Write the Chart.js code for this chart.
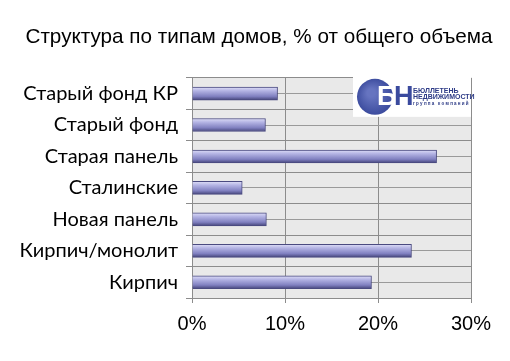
<!DOCTYPE html>
<html>
<head>
<meta charset="utf-8">
<script src="https://cdn.jsdelivr.net/npm/chart.js@4"></script>
<style>
  html, body { margin: 0; padding: 0; background: #fff; }
  #wrap { width: 510px; height: 361px; }
</style>
</head>
<body>
<div id="wrap"><canvas id="chart" width="510" height="361"></canvas></div>
<script>
// ================= DATA =================
const categories = [
    "Старый фонд КР",
    "Старый фонд",
    "Старая панель",
    "Сталинские",
    "Новая панель",
    "Кирпич/монолит",
    "Кирпич"
];
const shares = [9.2, 7.9, 26.3, 5.4, 8.0, 23.6, 19.3];
const xTicks = [0, 10, 20, 30];

const titleText = "Структура по типам домов, % от общего объема";

// ================= HELPERS =================
function barGradient(ctx) {
    const chart = ctx.chart;
    const y = chart.scales.y;
    if (!y || ctx.dataIndex === undefined) return "#9090c8";
    const c = y.getPixelForValue(ctx.dataIndex);
    if (!Number.isFinite(c)) return "#9090c8";
    const g = chart.ctx.createLinearGradient(0, c - 7, 0, c + 7);
    g.addColorStop(0, "#e4e4fa");
    g.addColorStop(0.3, "#b4b4e4");
    g.addColorStop(0.7, "#8080c0");
    g.addColorStop(1, "#3c3c70");
    return g;
}

// plot background
const plotBg = {
    id: "plotBg",
    beforeDraw(chart) {
        const { ctx, chartArea: a } = chart;
        ctx.save();
        ctx.fillStyle = "#e9e9e9";
        ctx.fillRect(a.left, a.top, a.right - a.left, a.bottom - a.top);
        ctx.restore();
    }
};

// logo in the top-right corner
const logo = {
    id: "logo",
    afterDatasetsDraw(chart) {
        const { ctx, chartArea: a } = chart;
        const x = a.right - 118, y = a.top - 1;
        ctx.save();
        ctx.fillStyle = "#ffffff";
        ctx.fillRect(x, y, 118, 40);

        const g = ctx.createRadialGradient(x + 18, y + 16, 4, x + 22, y + 20, 20);
        g.addColorStop(0, "#6674c0");
        g.addColorStop(1, "#37479a");
        ctx.fillStyle = g;
        ctx.beginPath();
        ctx.arc(x + 22, y + 20, 18, 0, Math.PI * 2);
        ctx.fill();

        ctx.textBaseline = "middle";
        ctx.font = "bold 27px 'Liberation Sans', Arial";
        ctx.fillStyle = "#ffffff";
        ctx.fillText("Б", x + 24, y + 21);
        ctx.fillStyle = "#3a4a9e";
        ctx.fillText("Н", x + 41, y + 21);

        ctx.fillStyle = "#2c3a86";
        ctx.font = "bold 7px 'Liberation Sans', Arial";
        ctx.fillText("БЮЛЛЕТЕНЬ", x + 60, y + 14);
        ctx.fillText("НЕДВИЖИМОСТИ", x + 60, y + 20);
        ctx.font = "bold 4.5px 'Liberation Sans', Arial";
        ctx.fillText("г р у п п а   к о м п а н и й", x + 60, y + 27);
        ctx.restore();
    }
};

// ================= CHART =================
const chart = new Chart(document.getElementById("chart"), {
    type: "bar",
    data: {
        labels: categories,
        datasets: [{
            data: shares,
            backgroundColor: barGradient,
            borderColor: "#4a4a80",
            borderWidth: 1,
            borderSkipped: "left",
            barThickness: 13
        }]
    },
    plugins: [plotBg, logo],
    options: {
        indexAxis: "y",
        responsive: false,
        animation: false,
        layout: { padding: { left: 8, right: 0, top: 0, bottom: 0 } },
        plugins: {
            legend: { display: false },
            tooltip: { enabled: false },
            title: {
                display: true,
                text: titleText,
                color: "#000",
                font: { family: "'Liberation Sans', Arial", size: 20.7, weight: "normal" },
                padding: { top: 25, bottom: 28 }
            }
        },
        scales: {
            x: {
                min: 0,
                max: 30,
                afterBuildTicks: (s) => { s.ticks = xTicks.map(v => ({ value: v })); },
                afterFit: (s) => { s.height = 63; s.paddingRight = 39; s.paddingLeft = 0; },
                ticks: {
                    color: "#000",
                    padding: 9,
                    font: { family: "'Liberation Sans', Arial", size: 20 },
                    callback: (v) => v + "%"
                },
                grid: { color: "#8c8c8c", tickLength: 5, tickColor: "#8c8c8c" },
                border: { color: "#8c8c8c" }
            },
            y: {
                afterFit: (s) => { s.width = 184; },
                ticks: {
                    color: "#000",
                    padding: 8,
                    font: { family: "Lato, 'Open Sans', sans-serif", size: 20 }
                },
                grid: { offset: true, color: "#8c8c8c", tickLength: 6, tickColor: "#8c8c8c" },
                border: { color: "#8c8c8c" }
            },
            y2: {
                type: "category",
                labels: categories,
                position: "left",
                display: true,
                afterFit: (s) => { s.width = 0; },
                ticks: { display: false },
                grid: { offset: false, color: "#9a9a9a", drawTicks: false },
                border: { display: false }
            }
        }
    }
});
// gradients depend on laid-out scales
chart.update();
</script>
</body>
</html>
